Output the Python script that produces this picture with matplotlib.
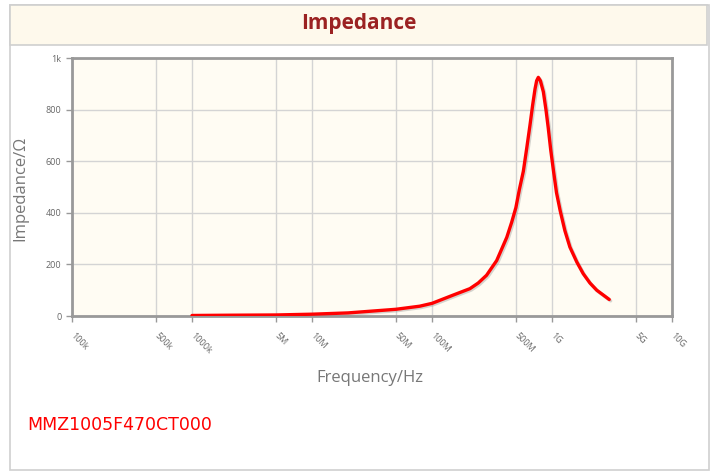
import numpy as np
import matplotlib.pyplot as plt
import matplotlib.patheffects as pe
from matplotlib.patches import Rectangle

# impedance curve (Hz, ohm)
freq = [1e6, 2e6, 5e6, 1e7, 2e7, 5e7, 7.9e7, 1e8, 1.5e8, 2.07e8, 2.43e8, 2.85e8,
        3.46e8, 4.2e8, 4.61e8, 5e8, 5.35e8, 5.77e8, 6.16e8, 6.56e8, 6.9e8, 7.22e8,
        7.45e8, 7.69e8, 8.0e8, 8.47e8, 8.91e8, 9.31e8, 9.75e8, 1.03e9, 1.09e9,
        1.17e9, 1.28e9, 1.41e9, 1.61e9, 1.82e9, 2.07e9, 2.36e9, 2.68e9, 3.0e9]
impedance = [2, 3, 4, 7, 12, 26, 38, 49, 81, 106, 128, 158,
             215, 305, 363, 420, 491, 561, 651, 741, 818, 880,
             912, 925, 912, 869, 799, 728, 645, 561, 478,
             408, 331, 267, 209, 164, 128, 100, 81, 64]

xticks = [1e5, 5e5, 1e6, 5e6, 1e7, 5e7, 1e8, 5e8, 1e9, 5e9, 1e10]
xtick_labels = ['100k', '500k', '1000k', '5M', '10M', '50M', '100M', '500M', '1G', '5G', '10G']
yticks = [0, 200, 400, 600, 800, 1000]
ytick_labels = ['0', '200', '400', '600', '800', '1k']

W, H = 717, 473
fig = plt.figure(figsize=(W / 100, H / 100), dpi=100)
fig.patch.set_facecolor('white')


def px(x0, y0, x1, y1):
    # pixel box (top-left origin) -> figure fraction rect
    return [x0 / W, 1 - y1 / H, (x1 - x0) / W, (y1 - y0) / H]


# outer frame and title bar
r = px(10, 5, 709, 470)
fig.patches.append(Rectangle((r[0], r[1]), r[2], r[3], transform=fig.transFigure,
                             facecolor='white', edgecolor='#cfcfcf', lw=1.2, zorder=-2))
r = px(10, 5, 707, 45)
fig.patches.append(Rectangle((r[0], r[1]), r[2], r[3], transform=fig.transFigure,
                             facecolor='#fef9ec', edgecolor='#cfcfcf', lw=1.2, zorder=-1))
fig.text(359 / W, 1 - 24 / H, 'Impedance', ha='center', va='center', fontsize=15,
         fontweight='bold', color='#9b2222', family='Open Sans')

ax = fig.add_axes(px(72, 58, 672, 316))
ax.set_zorder(2)
ax.set_facecolor('#fffcf3')
ax.set_xscale('log')
ax.set_xlim(1e5, 1e10)
ax.set_ylim(0, 1000)

ax.plot(freq, impedance, color='#ff0000', lw=2.4, solid_capstyle='round',
        solid_joinstyle='round', zorder=3,
        path_effects=[pe.SimpleLineShadow(offset=(1, -1), shadow_color='#888888', alpha=0.35),
                      pe.Normal()])

ax.set_xticks(xticks)
ax.set_xticklabels(xtick_labels, rotation=-45, ha='left', va='center', rotation_mode='anchor',
                   fontsize=6.5, color='#666666', family='Open Sans')
ax.xaxis.set_minor_locator(plt.NullLocator())
ax.set_yticks(yticks)
ax.set_yticklabels(ytick_labels, fontsize=6.5, color='#555555', family='Open Sans')
ax.tick_params(axis='both', colors='#999999', length=4, width=1, labelcolor='#666666')
ax.tick_params(axis='x', pad=9)
ax.grid(True, color='#d4d4d4', lw=1)
ax.set_axisbelow(True)
for s in ax.spines.values():
    s.set_color('#999999')
    s.set_linewidth(2)

fig.text(370 / W, 1 - 378 / H, 'Frequency/Hz', ha='center', va='center', fontsize=12,
         color='#777777', family='Open Sans')
fig.text(20 / W, 1 - 188 / H, 'Impedance/\u03a9', ha='center', va='center', fontsize=12,
         color='#777777', family='Open Sans', rotation=90)

fig.text(27 / W, 1 - 425 / H, 'MMZ1005F470CT000', ha='left', va='center', fontsize=12.5,
         color='#ff0000', family='DejaVu Sans')

fig.savefig('out.png', dpi=100)
